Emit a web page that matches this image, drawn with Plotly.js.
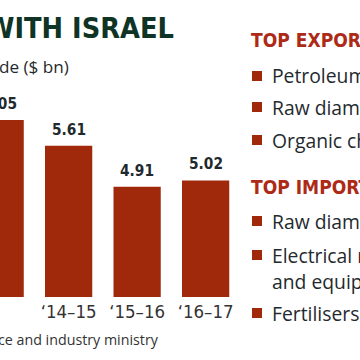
<!DOCTYPE html>
<html><head><meta charset="utf-8">
<script src="https://cdn.plot.ly/plotly-3.0.1.min.js"></script>
<style>html,body{margin:0;padding:0;background:#fff}#c{width:360px;height:360px}</style>
</head><body><div id="c"></div>
<script>
const years = ["‘13–14", "‘14–15", "‘15–16", "‘16–17"];
const trade = [6.05, 5.61, 4.91, 5.02];
const exportsList = ["Petroleum products", "Raw diamonds", "Organic chemicals"];
const importsList = ["Raw diamonds", "Electrical machinery", "and equipment", "Fertilisers"];
const titleText = "WITH ISRAEL";
const subtitleText = "Trade ($ bn)";
const sourceText = "Source: Commerce and industry ministry";

const W = 360, H = 360, T = 0, B = 63;
const PH = H - T - B;
const px = x => x / W;
const py = y => (PH + T - y) / PH;

const cv = document.createElement("canvas").getContext("2d");
function width(text, fam, weight, size) { cv.font = weight + " " + size + "px " + fam; return cv.measureText(text).width; }
function has(f) {
  return ["monospace", "serif"].some(g => width("mmmWWWiiilll0123", '"' + f + '", ' + g, "bold", 50) !== width("mmmWWWiiilll0123", g, "bold", 50));
}
const narrowName = ["Liberation Sans Narrow", "DejaVu Sans Condensed", "Roboto", "Liberation Sans"].find(has) || "sans-serif";
const narrow = '"' + narrowName + '", sans-serif';
const bodyName = ["Open Sans", "Noto Sans", "Liberation Sans"].find(has) || "sans-serif";
const body = '"' + bodyName + '", sans-serif';
function fit(text, fam, weight, target) { return 100 * target / width(text, fam, weight, 100); }

const barColor = "#a0290c";
const red = "#ad2a17";
const green = "#0f3324";
const dark = "#1f2a2e";

const titleSize = fit(titleText, narrow, "bold", 188);
const valSize = fit("5.61", narrow, "bold", 34);
const tickSize = fit("‘14–15", narrow, "normal", 56);
const subSize = fit("de ($ bn)", body, "normal", 70);
const srcSize = fit("ce and industry ministry", body, "normal", 160);
const itemSize = fit("Raw diam", body, "normal", 88);
const headSize = fit("TOP EXPOR", narrow, "bold", 110);

const xs = years.map((_, i) => i);
const annotations = [];
const shapes = [];

trade.forEach((v, i) => annotations.push({
  x: i, y: v, xref: "x", yref: "y", text: "<b>" + v.toFixed(2) + "</b>",
  showarrow: false, yanchor: "bottom", xanchor: "center", yshift: 5,
  font: {family: narrow, size: valSize, color: dark}
}));

annotations.push({x: px(176), y: py(28), xref: "paper", yref: "paper", text: "<b>" + titleText + "</b>",
  showarrow: false, xanchor: "right", yanchor: "middle", font: {family: narrow, size: titleSize, color: green}});
annotations.push({x: px(71), y: py(67), xref: "paper", yref: "paper", text: subtitleText,
  showarrow: false, xanchor: "right", yanchor: "middle", font: {family: body, size: subSize, color: dark}});
annotations.push({x: px(161), y: py(339), xref: "paper", yref: "paper", text: sourceText,
  showarrow: false, xanchor: "right", yanchor: "middle", font: {family: body, size: srcSize, color: "#333"}});

function header(text, y) {
  annotations.push({x: px(249), y: py(y), xref: "paper", yref: "paper", text: "<b>" + text + "</b>",
    showarrow: false, xanchor: "left", yanchor: "middle", font: {family: narrow, size: headSize, color: red}});
}
function item(text, y, marker) {
  annotations.push({x: px(270), y: py(y), xref: "paper", yref: "paper", text: text,
    showarrow: false, xanchor: "left", yanchor: "middle", font: {family: body, size: itemSize, color: dark}});
  if (marker) shapes.push({type: "rect", xref: "paper", yref: "paper",
    x0: px(252), x1: px(262), y0: py(y + 5), y1: py(y - 5), fillcolor: barColor, line: {width: 0}});
}
header("TOP EXPORTS", 40);
item(exportsList[0], 76, true);
item(exportsList[1], 107, true);
item(exportsList[2], 140, true);
header("TOP IMPORTS", 187);
item(importsList[0], 221, true);
item(importsList[1], 255, true);
item(importsList[2], 281, false);
item(importsList[3], 313, true);

Plotly.newPlot("c", [{
  type: "bar", x: xs, y: trade, width: 0.69,
  marker: {color: barColor}, hoverinfo: "none"
}], {
  width: W, height: H, margin: {l: 0, r: 0, t: T, b: B},
  paper_bgcolor: "#fff", plot_bgcolor: "#fff", showlegend: false,
  xaxis: {range: [-0.002, 5.254], tickmode: "array", tickvals: xs, ticktext: years,
    showgrid: false, zeroline: false, showline: false, ticks: "",
    tickfont: {family: narrow, size: tickSize, color: "#333"}, ticklabelstandoff: 1},
  yaxis: {range: [3.03, 8.1], visible: false, showgrid: false, zeroline: false},
  annotations: annotations, shapes: shapes
}, {staticPlot: true});
</script></body></html>
